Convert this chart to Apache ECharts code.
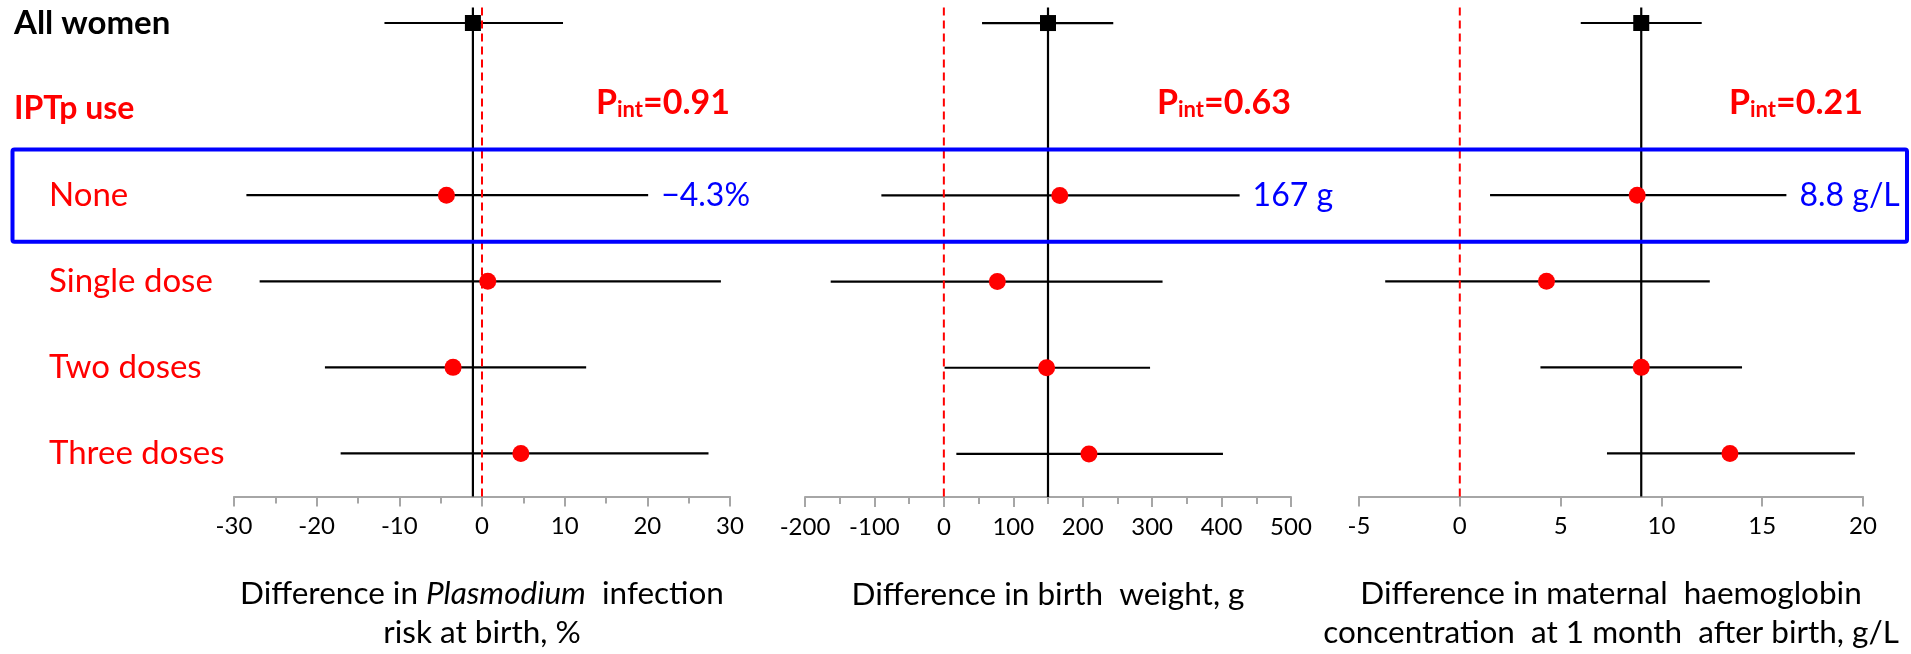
<!DOCTYPE html>
<html><head><meta charset="utf-8">
<script src="https://cdn.jsdelivr.net/npm/echarts@6/dist/echarts.min.js"></script>
<style>html,body{margin:0;padding:0;background:#fff}#c{width:1911px;height:654px}</style>
</head><body><div id="c"></div>
<script>
// ---------------- data ----------------
const rowLabels = ['All women', 'IPTp use', 'None', 'Single dose', 'Two doses', 'Three doses'];
// Panel 1: difference in Plasmodium infection risk at birth, %
const p1Est  = [-1.1, null, -4.3, 0.7, -3.5, 4.7];
const p1Low  = [-11.8, null, -28.5, -26.9, -19.0, -17.1];
const p1High = [9.8, null, 20.1, 28.9, 12.6, 27.4];
// Panel 2: difference in birth weight, g
const p2Est  = [150, null, 167, 77, 148, 209];
const p2Low  = [55, null, -90, -163, 1, 18];
const p2High = [244, null, 426, 315, 297, 402];
// Panel 3: difference in maternal haemoglobin, g/L
const p3Est  = [9.0, null, 8.8, 4.3, 9.0, 13.4];
const p3Low  = [6.0, null, 1.5, -3.7, 4.0, 7.3];
const p3High = [12.0, null, 16.2, 12.4, 14.0, 19.6];
const pInt = ['0.91', '0.63', '0.21'];
const highlightLabels = ['\u22124.3%', '167 g', '8.8 g/L'];
const highlightRow = 2;
const nullValue = 0;
const xTicks1 = [-30, -20, -10, 0, 10, 20, 30];
const xTicks2 = [-200, -100, 0, 100, 200, 300, 400, 500];
const xTicks3 = [-5, 0, 5, 10, 15, 20];
const axisIntervals = [10, 100, 5];
const axisTitles = [
  '{a|Difference in }{i|Plasmodium}{a|  infection}\n{a|risk at birth, %}',
  '{a|Difference in birth  weight, g}',
  '{a|Difference in maternal  haemoglobin}\n{a|concentration  at 1 month  after birth, g/L}'
];

// ---------------- chart ----------------
const FONT = 'Lato, "Open Sans", sans-serif';
const RED = '#FF0000', BLUE = '#0000FF', AXIS = '#A6A6A6';
const Y_MIN = -0.25, Y_MAX = 5.5, LINE_TOP = -0.18;
const panels = [
  {est: p1Est, low: p1Low, high: p1High, ticks: xTicks1},
  {est: p2Est, low: p2Low, high: p2High, ticks: xTicks2},
  {est: p3Est, low: p3Low, high: p3High, ticks: xTicks3}
];
const gridBoxes = [[234, 496], [805, 486], [1359, 504]];

const chart = echarts.init(document.getElementById('c'));

const grid = gridBoxes.map(g => ({left: g[0], width: g[1], top: 1.5, height: 495.5}));

const xAxis = panels.map((p, i) => ({
  type: 'value', gridIndex: i,
  min: p.ticks[0], max: p.ticks[p.ticks.length - 1], interval: axisIntervals[i],
  axisLine: {show: true, onZero: false, lineStyle: {color: AXIS, width: 2}},
  axisTick: {show: true, length: 10, lineStyle: {color: AXIS, width: 2}},
  minorTick: {show: i < 2, splitNumber: 2, length: 7, lineStyle: {color: AXIS, width: 2}},
  splitLine: {show: false},
  axisLabel: {customValues: p.ticks, margin: 18, color: '#000', fontSize: 24, fontFamily: FONT},
  name: axisTitles[i], nameLocation: 'middle', nameGap: 78,
  nameTextStyle: {
    rich: {
      a: {fontSize: 31.5, fontFamily: FONT, color: '#000', lineHeight: 39},
      i: {fontSize: 31.5, fontFamily: FONT, color: '#000', lineHeight: 39, fontStyle: 'italic'}
    }
  }
}));

const yAxis = panels.map((p, i) => ({
  type: 'value', gridIndex: i, min: Y_MIN, max: Y_MAX, inverse: true,
  axisLine: {show: false}, axisTick: {show: false}, splitLine: {show: false},
  axisLabel: i === 0 ? {
    show: true, customValues: rowLabels.map((r, k) => k), align: 'left', margin: 220,
    formatter: v => {
      const k = Math.round(v);
      if (k === 0) return '{a|' + rowLabels[k] + '}';
      if (k === 1) return '{b|' + rowLabels[k] + '}';
      return '{c|' + rowLabels[k] + '}';
    },
    rich: {
      a: {fontSize: 33, fontWeight: 'bold', color: '#000', fontFamily: FONT},
      b: {fontSize: 32, fontWeight: 'bold', color: RED, fontFamily: FONT},
      c: {fontSize: 33, color: RED, fontFamily: FONT, padding: [0, 0, 0, 35]}
    }
  } : {show: false}
}));

const series = [];
panels.forEach((p, i) => {
  // confidence intervals
  const ciRows = [];
  p.est.forEach((e, k) => { if (e !== null) ciRows.push(k); });
  series.push({
    type: 'custom', xAxisIndex: i, yAxisIndex: i, z: 2, clip: false,
    data: ciRows.map(k => [p.low[k], p.high[k], k]),
    renderItem: (params, api) => {
      const a = api.coord([api.value(0), api.value(2)]);
      const b = api.coord([api.value(1), api.value(2)]);
      const children = [{type: 'line', shape: {x1: a[0], y1: a[1], x2: b[0], y2: b[1]},
        style: {stroke: '#000', lineWidth: 2.2}}];
      if (Math.round(api.value(2)) === highlightRow) {
        children.push({type: 'text', style: {text: highlightLabels[i], x: b[0] + 13, y: b[1],
          fill: BLUE, fontSize: 32, fontFamily: FONT, align: 'left', verticalAlign: 'middle'}});
      }
      return {type: 'group', children};
    }
  });
  // null (no effect) line
  series.push({
    type: 'custom', xAxisIndex: i, yAxisIndex: i, z: 3, clip: false,
    data: [[nullValue]],
    renderItem: (params, api) => {
      const a = api.coord([api.value(0), LINE_TOP]), b = api.coord([api.value(0), Y_MAX]);
      return {type: 'line', shape: {x1: a[0], y1: a[1], x2: b[0], y2: b[1]},
        style: {stroke: RED, lineWidth: 2, lineDash: [8, 5]}};
    }
  });
  // overall estimate line
  series.push({
    type: 'custom', xAxisIndex: i, yAxisIndex: i, z: 3, clip: false,
    data: [[p.est[0]]],
    renderItem: (params, api) => {
      const a = api.coord([api.value(0), LINE_TOP]), b = api.coord([api.value(0), Y_MAX]);
      return {type: 'line', shape: {x1: a[0], y1: a[1], x2: b[0], y2: b[1]},
        style: {stroke: '#000', lineWidth: 2.2}};
    }
  });
  // P for interaction label
  series.push({
    type: 'custom', xAxisIndex: i, yAxisIndex: i, z: 4, clip: false,
    data: [[p.ticks[p.ticks.length - 1], 1]],
    renderItem: (params, api) => {
      const c = api.coord([api.value(0), api.value(1)]);
      return {type: 'text', style: {
        text: '{p|P}{s|int}{p|=' + pInt[i] + '}', x: c[0], y: c[1] - 6,
        align: 'right', verticalAlign: 'middle',
        rich: {
          p: {fontSize: 34, fontWeight: 'bold', fill: RED, fontFamily: FONT, lineHeight: 36},
          s: {fontSize: 22, fontWeight: 'bold', fill: RED, fontFamily: FONT, lineHeight: 14, verticalAlign: 'bottom'}
        }
      }};
    }
  });
  // overall marker
  series.push({
    type: 'scatter', xAxisIndex: i, yAxisIndex: i, z: 5,
    symbol: 'rect', symbolSize: 16, itemStyle: {color: '#000', opacity: 1},
    data: [[p.est[0], 0]]
  });
  // subgroup markers
  series.push({
    type: 'scatter', xAxisIndex: i, yAxisIndex: i, z: 5,
    symbol: 'circle', symbolSize: 17, itemStyle: {color: RED, opacity: 1},
    data: ciRows.filter(k => k > 1).map(k => [p.est[k], k])
  });
});

chart.setOption({
  animation: false,
  backgroundColor: '#fff',
  textStyle: {fontFamily: FONT},
  grid, xAxis, yAxis, series
});

// highlight box around the "None" row
const yTop = chart.convertToPixel({yAxisIndex: 0}, 1.47);
const yBot = chart.convertToPixel({yAxisIndex: 0}, 2.54);
chart.setOption({
  graphic: [{type: 'rect', z: 10, silent: true,
    shape: {x: 12.5, y: yTop, width: 1894.5, height: yBot - yTop, r: 2},
    style: {fill: 'none', stroke: BLUE, lineWidth: 4}}]
});
</script>
</body></html>
